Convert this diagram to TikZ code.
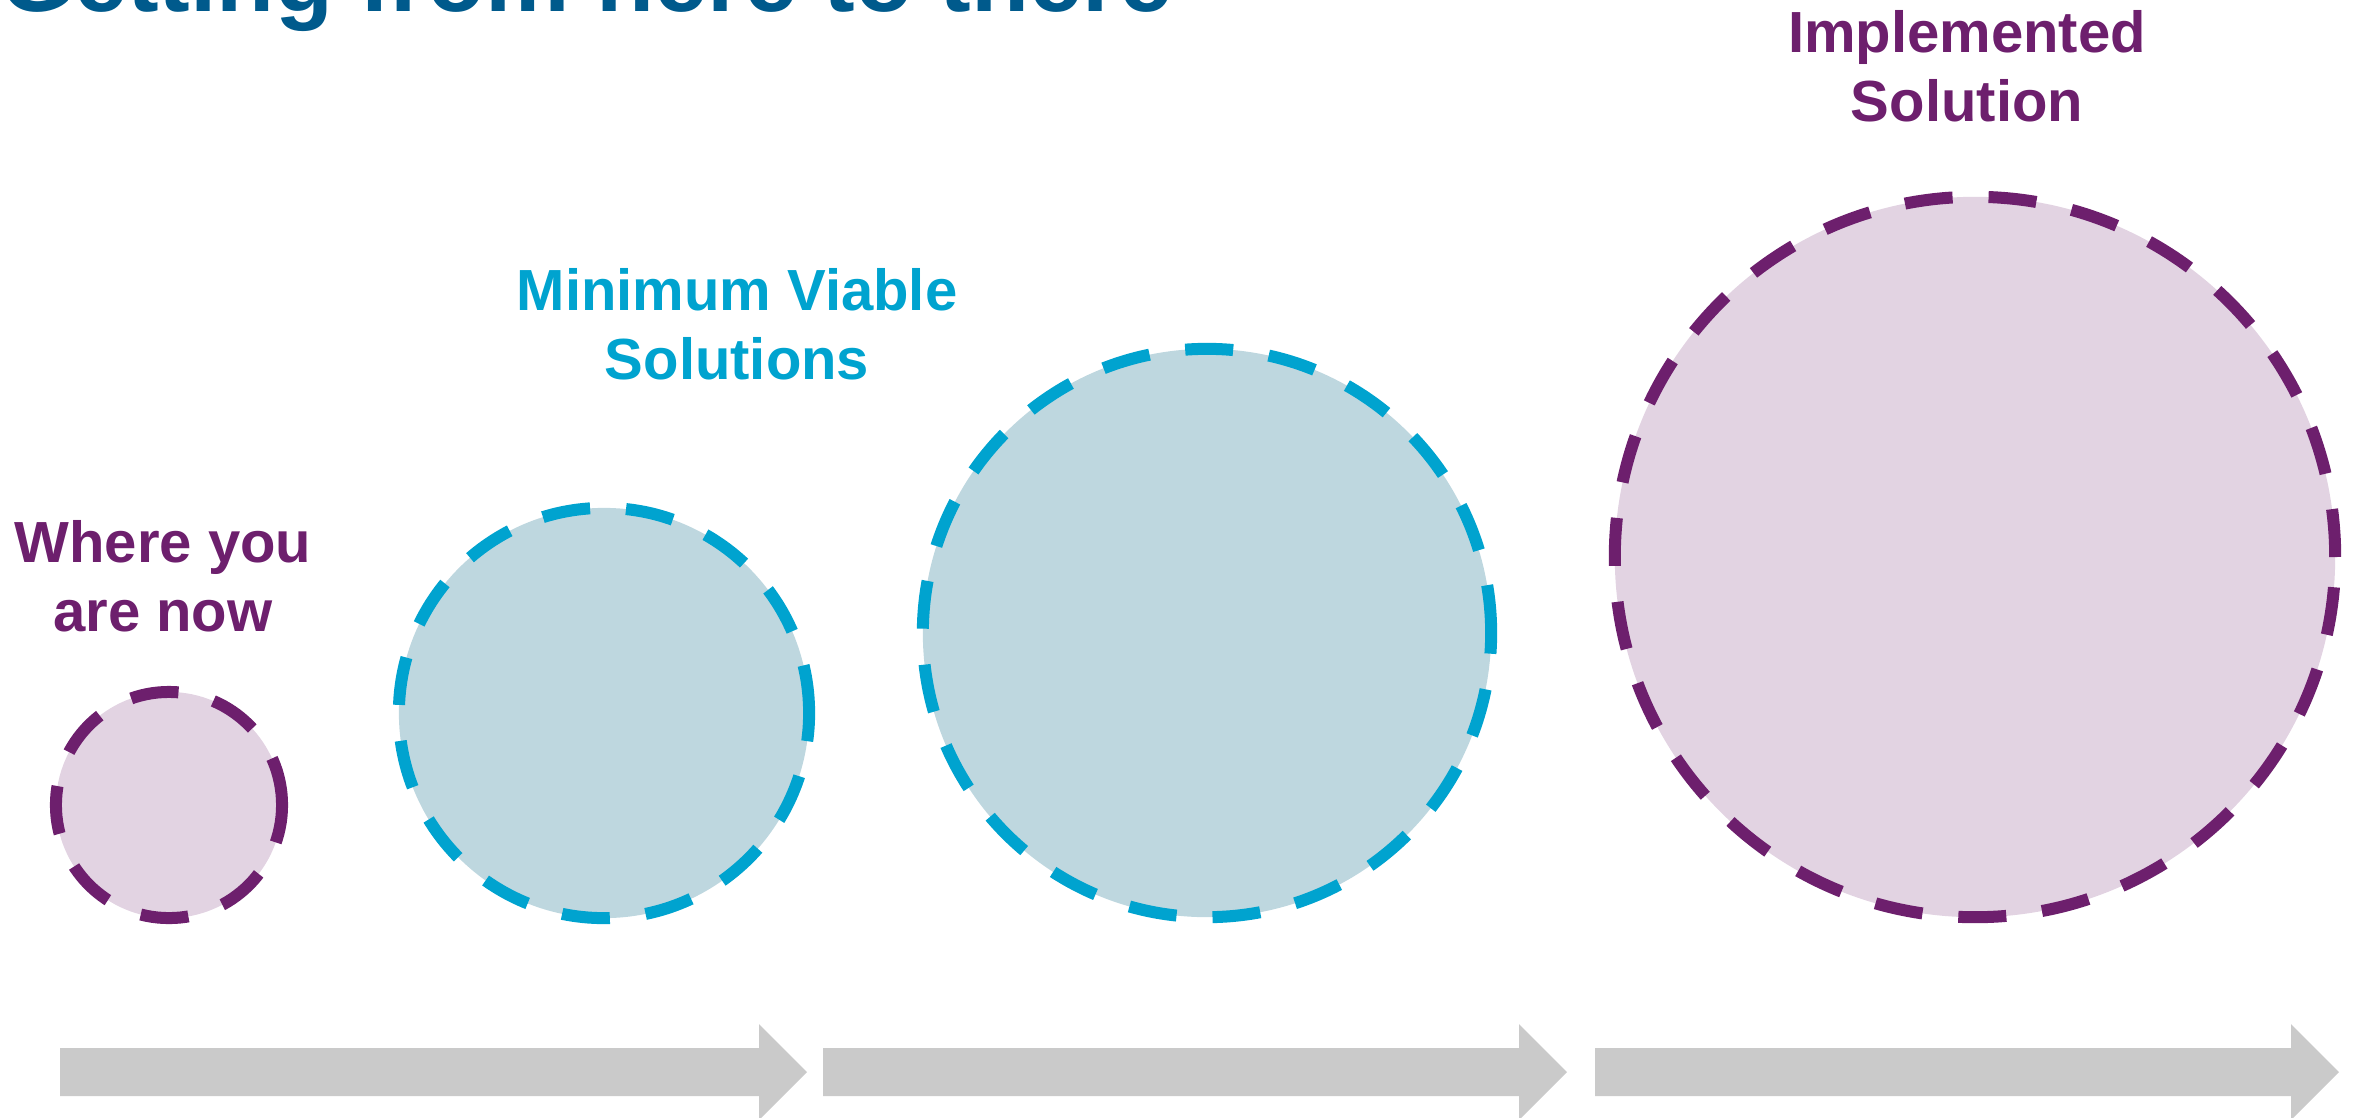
\documentclass[tikz,border=0pt]{standalone}
\usepackage{fontspec}
\setmainfont{Liberation Sans}

\definecolor{plumline}{RGB}{109,31,109}
\definecolor{plumfill}{RGB}{226,211,226}
\definecolor{mvpline}{RGB}{0,163,207}
\definecolor{mvpfill}{RGB}{190,215,223}
\definecolor{headblue}{RGB}{0,90,140}
\definecolor{arrowgrey}{RGB}{202,202,202}

\begin{document}
\begin{tikzpicture}
    [
        x=0.01cm, y=-0.01cm,
        stage/.style = {
            circle, inner sep=0, line width=0.12cm, dash pattern=on 0.48cm off 0.36cm
            },
        plum stage/.style = {
            stage, draw=plumline, fill=plumfill
            },
        mvp stage/.style = {
            stage, draw=mvpline, fill=mvpfill
            },
        caption/.style = {
            font=\bfseries\fontsize{16.5pt}{19.6pt}\selectfont, align=center, inner sep=0, anchor=north
            },
        heading/.style = {
            font=\bfseries\fontsize{27pt}{32pt}\selectfont, text=headblue, inner sep=0, anchor=base west
            },
        steparrow/.style = {
            fill=arrowgrey
            },
    ]
    \useasboundingbox (0,0) rectangle (2359,1117);
    \clip (0,0) rectangle (2359,1117);
    %title, cut off by the top edge
    \node[heading] (title) at (0,11) {Getting from here to there};
    %circles
    \node[plum stage, minimum size=2.26cm] (now) at (169,805) {};
    \node[mvp stage, minimum size=4.10cm] (mvp small) at (604,713) {};
    \node[mvp stage, minimum size=5.68cm] (mvp large) at (1207,633) {};
    \node[plum stage, minimum size=7.20cm] (solution) at (1975,557) {};
    %labels
    \node[caption, text=plumline] (now label) at (163,520) {Where you\\are now};
    \node[caption, text=mvpline] (mvp label) at (737,268) {Minimum Viable\\Solutions};
    \node[caption, text=plumline] (solution label) at (1967,10) {Implemented\\Solution};
    %arrows along the bottom
    \fill[steparrow] (60,1048) -- (759,1048) -- (759,1024) -- (807,1072) -- (759,1120) -- (759,1096) -- (60,1096) -- cycle;
    \fill[steparrow] (823,1048) -- (1519,1048) -- (1519,1024) -- (1567,1072) -- (1519,1120) -- (1519,1096) -- (823,1096) -- cycle;
    \fill[steparrow] (1595,1048) -- (2291,1048) -- (2291,1024) -- (2339,1072) -- (2291,1120) -- (2291,1096) -- (1595,1096) -- cycle;

\end{tikzpicture}
\end{document}
